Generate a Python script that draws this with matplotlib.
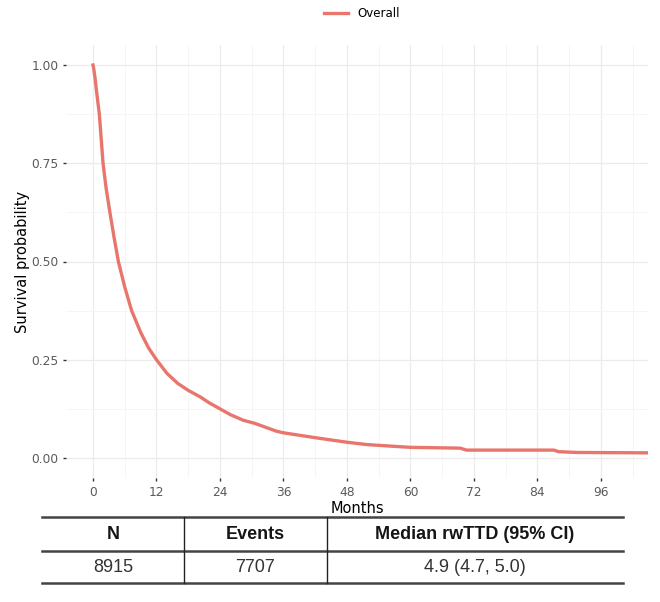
import matplotlib
matplotlib.use("Agg")
from matplotlib import pyplot as plt
from matplotlib.lines import Line2D

# Kaplan-Meier estimate
months = [0, 0.15, 0.36, 0.7, 1.2, 1.9, 2.5, 3.2, 4.0, 4.8, 6.0, 7.3, 9.0, 10.5, 12.0,
          14.0, 16.0, 18.0, 20.2, 22.0, 24.0, 26.0, 28.4, 30.6, 34.7, 36.0, 42.3, 48.0,
          51.8, 60.0, 69.4, 70.6, 87.1, 88.0, 91.5, 104.8]
survival = [1.0, 0.99, 0.97, 0.93, 0.875, 0.75, 0.685, 0.625, 0.56, 0.50, 0.435, 0.375,
            0.32, 0.28, 0.25, 0.215, 0.19, 0.172, 0.156, 0.14, 0.125, 0.11, 0.096, 0.088,
            0.068, 0.064, 0.051, 0.040, 0.034, 0.027, 0.025, 0.020, 0.020, 0.016, 0.014,
            0.013]

x_ticks = [0, 12, 24, 36, 48, 60, 72, 84, 96]
y_ticks = [0.0, 0.25, 0.50, 0.75, 1.0]
y_labels = ['0.00', '0.25', '0.50', '0.75', '1.00']

table_header = ['N', 'Events', 'Median rwTTD (95% CI)']
table_row = ['8915', '7707', '4.9 (4.7, 5.0)']

W, H = 660, 602
fig = plt.figure(figsize=(W / 100, H / 100), dpi=100)
ax = fig.add_axes([66 / W, 1 - 478 / H, (648 - 66) / W, (478 - 45) / H])

ax.plot(months, survival, color='#E8766D', lw=2.4, label='Overall', solid_joinstyle='round')

ax.set_xlim(-5.1, 104.9)
ax.set_ylim(-0.051, 1.051)
ax.set_xticks(x_ticks)
ax.set_xticks([6, 18, 30, 42, 54, 66, 78, 90, 102], minor=True)
ax.set_yticks(y_ticks)
ax.set_yticklabels(y_labels)
ax.set_yticks([0.125, 0.375, 0.625, 0.875], minor=True)
ax.grid(True, which='major', color='#EBEBEB', lw=0.9)
ax.grid(True, which='minor', color='#F4F4F4', lw=0.6)
ax.set_axisbelow(True)
for s in ax.spines.values():
    s.set_visible(False)
ax.tick_params(which='major', length=2.5, width=1, color='#333333',
               labelcolor='#5A5A5A', labelsize=8.8, pad=3)
ax.tick_params(which='minor', length=0)
ax.set_xlabel('Months', fontsize=10.5, labelpad=1.5)
ax.set_ylabel('Survival probability', fontsize=10.5, labelpad=1)

fig.legend(loc='upper center', bbox_to_anchor=(362 / W, 1.006), frameon=False,
           fontsize=8.5, handlelength=2.0, handletextpad=0.8)

# summary table under the plot
tab = fig.add_axes([0, 0, 1, 1], facecolor='none')
tab.set_xlim(0, W)
tab.set_ylim(H, 0)
tab.axis('off')
left, right = 42, 623
for y in (517, 550.5, 582.5):
    tab.add_line(Line2D([left, right], [y, y], color='#444444', lw=1.8))
for x in (184, 327):
    tab.add_line(Line2D([x, x], [517, 582.5], color='#222222', lw=1.0))
centers = [113, 255, 475]
for cx, h, v in zip(centers, table_header, table_row):
    tab.text(cx, 534.5, h, ha='center', va='center', fontsize=13, fontweight='bold',
             family='Liberation Sans', color='#151515')
    tab.text(cx, 568, v, ha='center', va='center', fontsize=13,
             family='Liberation Sans', color='#333333')

fig.savefig('out.png', dpi=100)
